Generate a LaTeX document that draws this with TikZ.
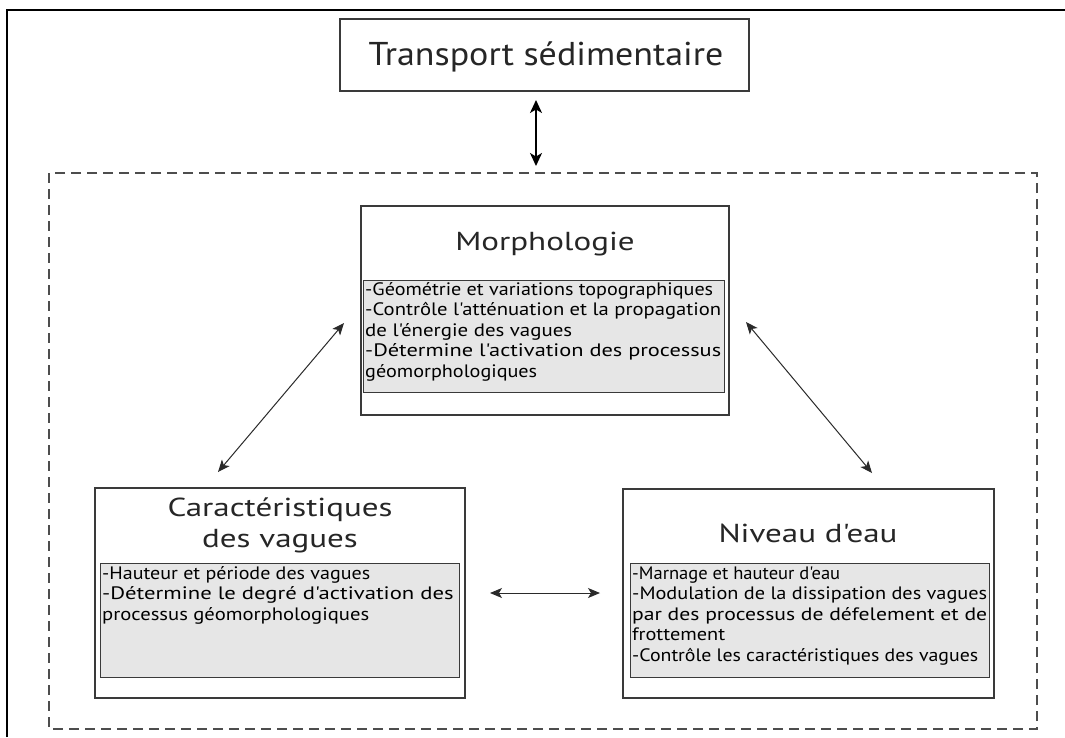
\documentclass[tikz,border=0pt]{standalone}
\usepackage{fontspec}
\setmainfont{PT Sans}
\newfontfamily\bodyfont{PT Sans}[FakeStretch=1.26]
\newfontfamily\titlefont{PT Sans}[FakeStretch=1.27]
\newfontfamily\transfont{PT Sans}[FakeStretch=1.09]
\usetikzlibrary{arrows.meta}
\definecolor{boxline}{HTML}{3A3A3A}
\definecolor{boxfill}{HTML}{E6E6E6}
\definecolor{dashcol}{HTML}{4D4D4D}
\definecolor{arrowcol}{HTML}{2A2A2A}
\newlength\fitw
% line scaled to a given width
\newcommand{\wline}[2]{\resizebox{#1}{\height}{#2}}
% justified line: stretch spaces, or squeeze if too long
\newcommand{\jline}[2]{\settowidth\fitw{#2}%
  \ifdim\fitw>#1\relax\resizebox{#1}{\height}{#2}\else\makebox[#1][s]{#2}\fi}
\begin{document}
\begin{tikzpicture}[x=1pt,y=-1pt,
  frameline/.style={line width=2pt, black},
  group/.style={draw=dashcol, line width=1.2pt, dash pattern=on 10pt off 6pt},
  outerbox/.style={draw=boxline, line width=1.1pt, fill=white, inner sep=0pt},
  innerbox/.style={draw=boxline, line width=1.1pt, fill=boxfill, inner sep=0pt, anchor=north west},
  bodytext/.style={anchor=base west, inner sep=0pt, align=left, text=black, font=\bodyfont\fontsize{18}{20.5}\selectfont},
  titletext/.style={anchor=base, inner sep=0pt, font=\titlefont\fontsize{26}{31}\selectfont, align=center, text=black!85},
  link/.style={arrowcol, line width=1pt, {Stealth[length=12pt,width=10pt,inset=3pt]}-{Stealth[length=12pt,width=10pt,inset=3pt]}},
  biglink/.style={black, line width=1.5pt, {Stealth[length=13pt,width=12pt,inset=3.5pt]}-{Stealth[length=13pt,width=12pt,inset=3.5pt]}},
]
\useasboundingbox (0,0) rectangle (1065,737);
\fill[white] (0,0) rectangle (1065,737);

% outer frame (cropped)
\draw[frameline] (7,737) -- (7,10) -- (1065,10);

% dashed group
\draw[group] (49,173) rectangle (1037,729);

% top box
\node[outerbox, minimum width=409, minimum height=72] (transport) at (544.5,55) {};
\node[titletext, font=\transfont\fontsize{33}{36}\selectfont] (transportT) at (546,65) {Transport sédimentaire};

% Morphologie
\node[outerbox, minimum width=368, minimum height=209] (morph) at (545,310.5) {};
\node[titletext] (morphT) at (545,250) {Morphologie};
\node[innerbox, minimum width=361, minimum height=112] (morphB) at (363,280) {};
\node[bodytext, text width=356] (morphTx) at (365,295) {%
\wline{348pt}{-Géométrie et variations topographiques}\\
\jline{356pt}{-Contrôle l'atténuation et la propagation}\\
\wline{207pt}{de l'énergie des vagues}\\
\jline{356pt}{-Détermine l'activation des processus}\\
\wline{172pt}{géomorphologiques}};

% Caracteristiques
\node[outerbox, minimum width=370, minimum height=210] (carac) at (280,593) {};
\node[titletext] (caracT) at (280,547) {Caractéristiques\\des vagues};
\node[innerbox, minimum width=359, minimum height=114] (caracB) at (100,563) {};
\node[bodytext, text width=355] (caracTx) at (102,579) {%
\wline{268pt}{-Hauteur et période des vagues}\\
\jline{355pt}{-Détermine le degré d'activation des}\\
\wline{267pt}{processus géomorphologiques}};

% Niveau d'eau
\node[outerbox, minimum width=371, minimum height=209] (niveau) at (808.5,593.5) {};
\node[titletext] (niveauT) at (808,542) {Niveau d'eau};
\node[innerbox, minimum width=359, minimum height=114] (niveauB) at (630,563) {};
\node[bodytext, text width=355] (niveauTx) at (632,579) {%
\wline{208pt}{-Marnage et hauteur d'eau}\\
\jline{355pt}{-Modulation de la dissipation des vagues}\\
\jline{355pt}{par des processus de défelement et de}\\
\wline{93pt}{frottement}\\
\wline{346pt}{-Contrôle les caractéristiques des vagues}};

% arrow end points
\coordinate (vTop) at (536,100);
\coordinate (vBot) at (536,166);
\coordinate (lUp) at (344,323);
\coordinate (lDown) at (218,472);
\coordinate (rUp) at (746,322);
\coordinate (rDown) at (872,473);
\coordinate (hL) at (490,593);
\coordinate (hR) at (600,593);

\draw[biglink] (vTop) -- (vBot);
\draw[link] (lUp) -- (lDown);
\draw[link] (rUp) -- (rDown);
\draw[link] (hL) -- (hR);
\end{tikzpicture}
\end{document}
